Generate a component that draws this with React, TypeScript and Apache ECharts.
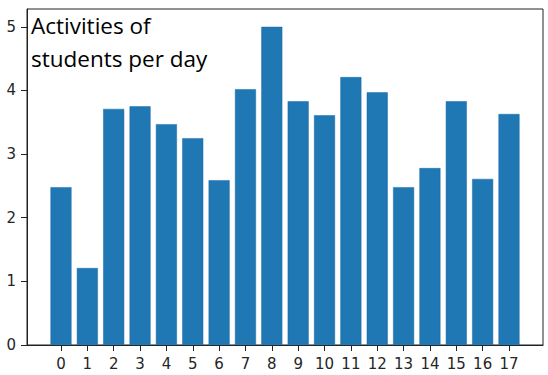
import React, { useEffect, useRef } from "react";
import * as echarts from "echarts";

const days: number[] = [0, 1, 2, 3, 4, 5, 6, 7, 8, 9, 10, 11, 12, 13, 14, 15, 16, 17];
const activities: number[] = [2.48, 1.21, 3.71, 3.75, 3.47, 3.25, 2.59, 4.02, 5.0, 3.83, 3.61, 4.21, 3.97, 2.48, 2.78, 3.83, 2.61, 3.63];
const yTicks: number[] = [0, 1, 2, 3, 4, 5];
const titleLines: string[] = ["Activities of", "students per day"];

export default function App() {
  const ref = useRef<HTMLDivElement>(null);
  useEffect(() => {
    if (!ref.current) return;
    const chart = echarts.init(ref.current, null, { renderer: "svg" });
    const tickFont = { fontFamily: "DejaVu Sans", fontSize: 15, color: "#262626" };
    chart.setOption({
      animation: false,
      grid: {
        left: 27,
        right: 5,
        top: 9,
        bottom: 30,
        show: true,
        borderColor: "#222",
        borderWidth: 1,
        backgroundColor: "#fff",
      },
      xAxis: {
        type: "value",
        min: -1.29,
        max: 18.29,
        splitLine: { show: false },
        axisLine: { show: true, onZero: false, lineStyle: { color: "#222" } },
        axisTick: { show: true, length: 6, customValues: days, lineStyle: { color: "#222" } },
        axisLabel: { ...tickFont, margin: 11, customValues: days },
      },
      yAxis: {
        type: "value",
        min: 0,
        max: 5.28,
        splitLine: { show: false },
        axisLine: { show: true, onZero: false, lineStyle: { color: "#222" } },
        axisTick: { show: true, length: 6, customValues: yTicks, lineStyle: { color: "#222" } },
        axisLabel: { ...tickFont, margin: 11, customValues: yTicks },
      },
      series: [
        {
          type: "bar",
          data: days.map((d, i) => [d, activities[i]]),
          barWidth: 21,
          itemStyle: { color: "#1f77b4", borderColor: "#1b6aa5", borderWidth: 0.5 },
        },
      ],
      graphic: titleLines.map((t, i) => ({
        type: "text",
        left: 31,
        top: 14 + i * 33,
        style: {
          text: t,
          fontFamily: "Open Sans",
          fontSize: 22.5,
          fill: "#000",
        },
      })),
    });
    return () => chart.dispose();
  }, []);
  return (
    <div
      ref={ref}
      style={{ position: "fixed", left: 0, top: 0, width: 548, height: 375, background: "#fff" }}
    />
  );
}
